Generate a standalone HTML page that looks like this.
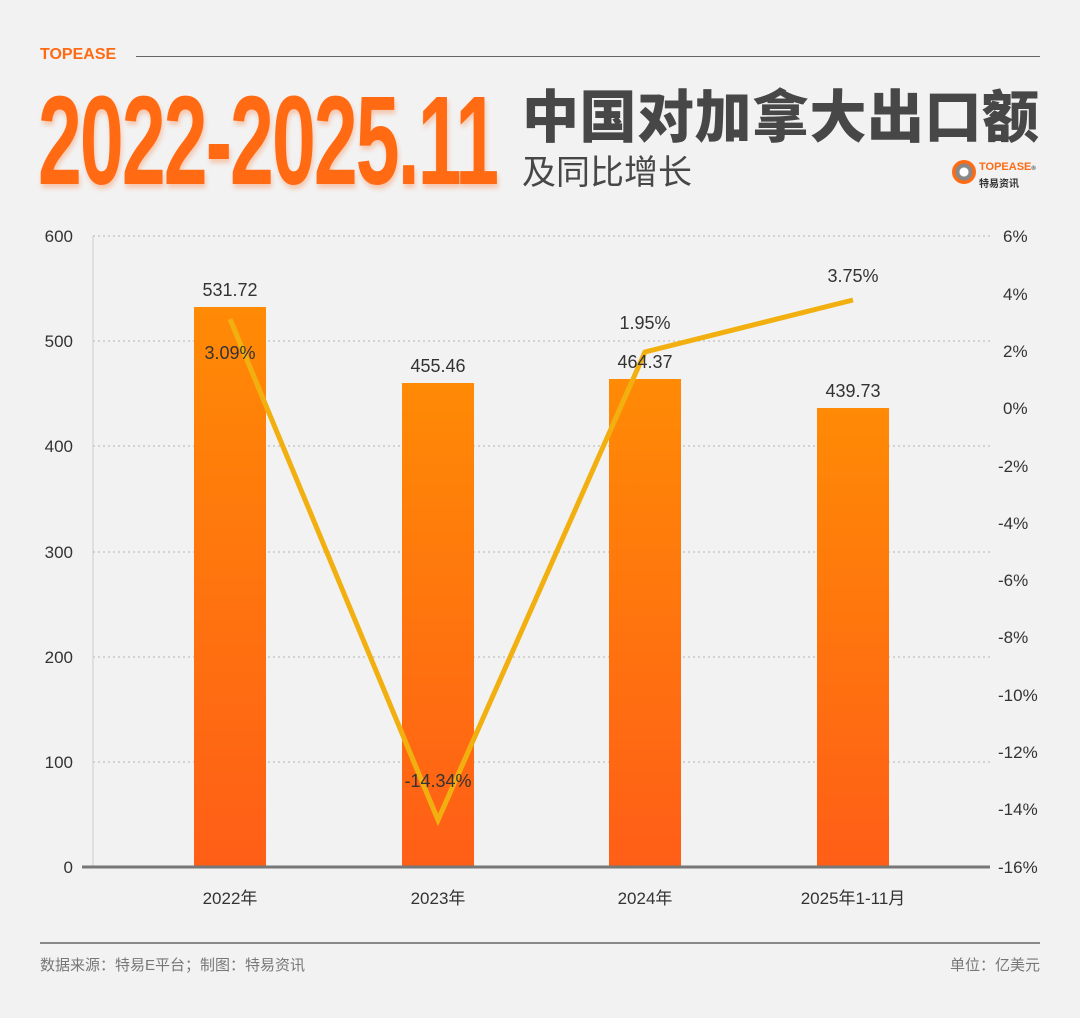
<!DOCTYPE html>
<html><head><meta charset="utf-8"><style>
html,body{margin:0;padding:0;background:#f2f2f2;}
body{width:1080px;height:1018px;position:relative;overflow:hidden;font-family:"Liberation Sans","Noto Sans CJK SC",sans-serif;}
.a{position:absolute;white-space:nowrap;}
</style></head><body>
<div class="a" style="left:40px;top:46px;font-size:16px;color:#ff6a13;font-weight:bold;">TOPEASE</div>
<div class="a" style="left:136px;top:56px;width:904px;height:1px;background:#666;"></div>
<div class="a" style="left:38px;top:78px;font-size:126px;font-weight:900;color:#ff6a13;letter-spacing:-3px;transform:scaleX(0.625);transform-origin:left top;text-shadow:2px 4px 6px rgba(255,100,20,0.3);line-height:1;">2022-2025.11</div>
<div class="a" style="left:522px;top:90px;font-size:57px;font-weight:900;color:#474747;letter-spacing:0.5px;line-height:1;">中国对加拿大出口额</div>
<div class="a" style="left:522px;top:156px;font-size:34px;color:#474747;line-height:1;">及同比增长</div>
<div class="a" style="left:952px;top:160px;width:24px;height:24px;border-radius:50%;background:radial-gradient(circle,#fff 0 4px,#888 5px 8px,#ff6a13 9px);"></div>
<div class="a" style="left:979px;top:161px;font-size:11px;font-weight:bold;color:#ff6a13;">TOPEASE<span style="font-size:6px;color:#444">®</span></div>
<div class="a" style="left:979px;top:175px;font-size:10px;font-weight:bold;color:#333;">特易资讯</div>
<svg class="a" style="left:0;top:0" width="1080" height="1018">
<defs><linearGradient id="g" x1="0" y1="0" x2="0" y2="1"><stop offset="0" stop-color="#ff8a05"/><stop offset="1" stop-color="#ff5e17"/></linearGradient></defs>
<g stroke="#c8c8c8" stroke-width="1.5" stroke-dasharray="2,3">
<line x1="93" x2="990" y1="236" y2="236"/><line x1="93" x2="990" y1="341" y2="341"/><line x1="93" x2="990" y1="446" y2="446"/><line x1="93" x2="990" y1="552" y2="552"/><line x1="93" x2="990" y1="657" y2="657"/><line x1="93" x2="990" y1="762" y2="762"/></g>
<line x1="93" x2="93" y1="236" y2="867" stroke="#ccc"/>
<rect x="194" y="307" width="72" height="560" fill="url(#g)"/>
<rect x="402" y="383" width="72" height="484" fill="url(#g)"/>
<rect x="609" y="379" width="72" height="488" fill="url(#g)"/>
<rect x="817" y="408" width="72" height="459" fill="url(#g)"/>
<line x1="82" x2="990" y1="867" y2="867" stroke="#777" stroke-width="3"/>
<polyline points="230,319 438,820 645,352 853,300" fill="none" stroke="#f2b010" stroke-width="5" stroke-linejoin="miter"/>
<g font-size="17" fill="#333" text-anchor="end" font-family="Liberation Sans,sans-serif">
<text x="73" y="242">600</text><text x="73" y="347">500</text><text x="73" y="452">400</text><text x="73" y="558">300</text><text x="73" y="663">200</text><text x="73" y="768">100</text><text x="73" y="873">0</text></g>
<g font-size="17" fill="#333" font-family="Liberation Sans,sans-serif">
<text x="1003" y="242">6%</text><text x="1003" y="300">4%</text><text x="1003" y="357">2%</text><text x="1003" y="414">0%</text><text x="998" y="472">-2%</text><text x="998" y="529">-4%</text><text x="998" y="586">-6%</text><text x="998" y="643">-8%</text><text x="998" y="701">-10%</text><text x="998" y="758">-12%</text><text x="998" y="815">-14%</text><text x="998" y="873">-16%</text></g>
<g font-size="18" fill="#333" text-anchor="middle">
<text x="230" y="296">531.72</text><text x="438" y="372">455.46</text><text x="645" y="368">464.37</text><text x="853" y="397">439.73</text>
<text x="230" y="359">3.09%</text><text x="438" y="787">-14.34%</text><text x="645" y="329">1.95%</text><text x="853" y="282">3.75%</text></g>
<g font-size="17" fill="#333" text-anchor="middle">
<text x="230" y="904">2022年</text><text x="438" y="904">2023年</text><text x="645" y="904">2024年</text><text x="853" y="904">2025年1-11月</text></g>
<line x1="40" x2="1040" y1="943" y2="943" stroke="#666" stroke-width="1.5"/>
<text x="40" y="970" font-size="15" fill="#777">数据来源：特易E平台；制图：特易资讯</text>
<text x="1040" y="970" font-size="15" fill="#777" text-anchor="end">单位：亿美元</text>
</svg>
</body></html>
